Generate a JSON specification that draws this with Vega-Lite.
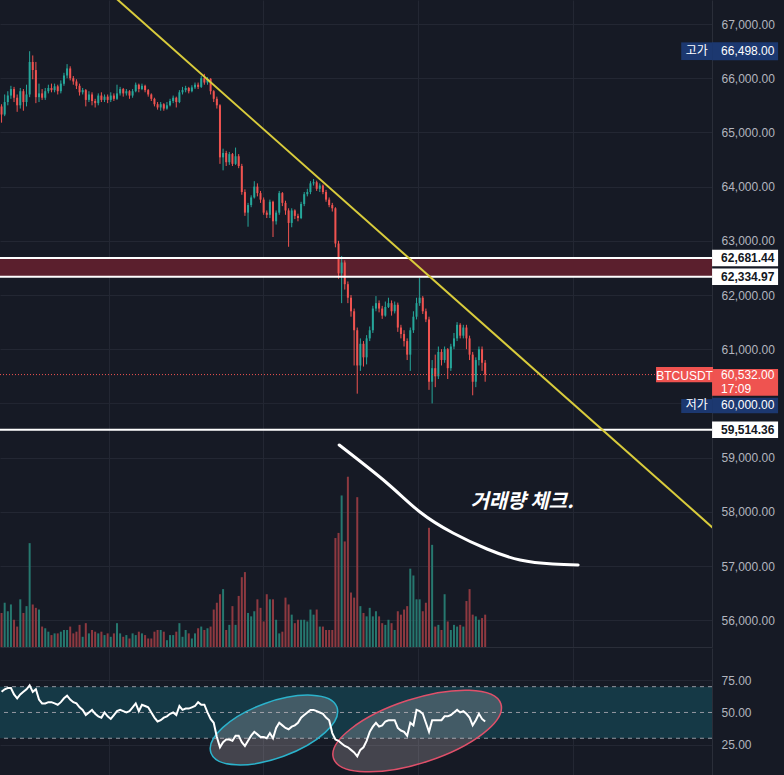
{
"$schema": "https://vega.github.io/schema/vega-lite/v6.json",
"background": "#161a25",
"padding": {"left": -3, "top": 0, "bottom": 0, "right": 8},
"spacing": 1,
"config": {
 "view": {"stroke": null},
 "scale": {"continuousPadding": 0},
 "axis": {"labelFont": "Liberation Sans", "labelFontSize": 12, "labelColor": "#b2b5be", "gridColor": "#232733", "domainColor": "#2a2e39", "ticks": false, "labelPadding": 9}
},
"datasets": {
 "candles": [
{"i":0,"o":65480,"h":65520,"l":65180,"c":65330,"v":20,"r":66},
{"i":1,"o":65330,"h":65700,"l":65300,"c":65560,"v":26,"r":68},
{"i":2,"o":65560,"h":65760,"l":65500,"c":65680,"v":21,"r":69},
{"i":3,"o":65680,"h":65860,"l":65620,"c":65800,"v":25,"r":69},
{"i":4,"o":65800,"h":65840,"l":65560,"c":65640,"v":16,"r":64},
{"i":5,"o":65640,"h":65700,"l":65380,"c":65500,"v":12,"r":61},
{"i":6,"o":65500,"h":65820,"l":65440,"c":65760,"v":28,"r":64},
{"i":7,"o":65760,"h":65800,"l":65400,"c":65560,"v":20,"r":66},
{"i":8,"o":65560,"h":65880,"l":65480,"c":65700,"v":24,"r":68},
{"i":9,"o":65700,"h":66498,"l":65650,"c":66300,"v":61,"r":71},
{"i":10,"o":66300,"h":66420,"l":65980,"c":66150,"v":25,"r":66},
{"i":11,"o":66150,"h":66300,"l":65540,"c":65650,"v":23,"r":68},
{"i":12,"o":65650,"h":65900,"l":65560,"c":65720,"v":22,"r":60},
{"i":13,"o":65720,"h":65800,"l":65600,"c":65640,"v":12,"r":57},
{"i":14,"o":65640,"h":65820,"l":65600,"c":65760,"v":11,"r":57},
{"i":15,"o":65760,"h":65880,"l":65720,"c":65820,"v":9,"r":58},
{"i":16,"o":65820,"h":65900,"l":65740,"c":65780,"v":7,"r":58},
{"i":17,"o":65780,"h":65900,"l":65740,"c":65850,"v":8,"r":57},
{"i":18,"o":65850,"h":65880,"l":65700,"c":65760,"v":8,"r":56},
{"i":19,"o":65760,"h":65960,"l":65720,"c":65900,"v":9,"r":58},
{"i":20,"o":65900,"h":66100,"l":65860,"c":66050,"v":10,"r":61},
{"i":21,"o":66050,"h":66260,"l":66000,"c":66180,"v":10,"r":63},
{"i":22,"o":66180,"h":66220,"l":65960,"c":66000,"v":12,"r":60},
{"i":23,"o":66000,"h":66040,"l":65880,"c":65940,"v":8,"r":58},
{"i":24,"o":65940,"h":65980,"l":65800,"c":65860,"v":9,"r":57},
{"i":25,"o":65860,"h":65900,"l":65680,"c":65740,"v":13,"r":54},
{"i":26,"o":65740,"h":65820,"l":65700,"c":65780,"v":6,"r":52},
{"i":27,"o":65780,"h":65800,"l":65480,"c":65600,"v":14,"r":48},
{"i":28,"o":65600,"h":65760,"l":65560,"c":65700,"v":8,"r":50},
{"i":29,"o":65700,"h":65740,"l":65500,"c":65580,"v":10,"r":52},
{"i":30,"o":65580,"h":65620,"l":65460,"c":65540,"v":9,"r":49},
{"i":31,"o":65540,"h":65720,"l":65500,"c":65680,"v":8,"r":47},
{"i":32,"o":65680,"h":65740,"l":65560,"c":65600,"v":9,"r":46},
{"i":33,"o":65600,"h":65700,"l":65560,"c":65660,"v":7,"r":50},
{"i":34,"o":65660,"h":65700,"l":65540,"c":65600,"v":8,"r":47},
{"i":35,"o":65600,"h":65740,"l":65560,"c":65680,"v":6,"r":45},
{"i":36,"o":65680,"h":65720,"l":65580,"c":65620,"v":8,"r":48},
{"i":37,"o":65620,"h":65880,"l":65600,"c":65720,"v":14,"r":51},
{"i":38,"o":65720,"h":65840,"l":65680,"c":65800,"v":8,"r":52},
{"i":39,"o":65800,"h":65820,"l":65660,"c":65720,"v":6,"r":51},
{"i":40,"o":65720,"h":65800,"l":65680,"c":65760,"v":7,"r":50},
{"i":41,"o":65760,"h":65780,"l":65620,"c":65680,"v":5,"r":51},
{"i":42,"o":65680,"h":65800,"l":65640,"c":65760,"v":8,"r":54},
{"i":43,"o":65760,"h":65920,"l":65740,"c":65880,"v":7,"r":57},
{"i":44,"o":65880,"h":65900,"l":65740,"c":65800,"v":9,"r":51},
{"i":45,"o":65800,"h":65900,"l":65780,"c":65860,"v":8,"r":56},
{"i":46,"o":65860,"h":65880,"l":65740,"c":65780,"v":7,"r":55},
{"i":47,"o":65780,"h":65800,"l":65660,"c":65700,"v":5,"r":54},
{"i":48,"o":65700,"h":65720,"l":65580,"c":65620,"v":5,"r":50},
{"i":49,"o":65620,"h":65640,"l":65480,"c":65520,"v":9,"r":46},
{"i":50,"o":65520,"h":65560,"l":65420,"c":65460,"v":10,"r":43},
{"i":51,"o":65460,"h":65560,"l":65400,"c":65520,"v":10,"r":44},
{"i":52,"o":65520,"h":65540,"l":65400,"c":65440,"v":9,"r":46},
{"i":53,"o":65440,"h":65560,"l":65420,"c":65500,"v":4,"r":47},
{"i":54,"o":65500,"h":65620,"l":65480,"c":65580,"v":7,"r":49},
{"i":55,"o":65580,"h":65680,"l":65540,"c":65640,"v":7,"r":50},
{"i":56,"o":65640,"h":65660,"l":65460,"c":65560,"v":9,"r":48},
{"i":57,"o":65560,"h":65780,"l":65540,"c":65740,"v":14,"r":55},
{"i":58,"o":65740,"h":65840,"l":65700,"c":65780,"v":6,"r":52},
{"i":59,"o":65780,"h":65860,"l":65740,"c":65820,"v":10,"r":53},
{"i":60,"o":65820,"h":65840,"l":65720,"c":65760,"v":8,"r":53},
{"i":61,"o":65760,"h":65870,"l":65740,"c":65830,"v":5,"r":54},
{"i":62,"o":65830,"h":65920,"l":65800,"c":65880,"v":8,"r":55},
{"i":63,"o":65880,"h":65920,"l":65800,"c":65840,"v":11,"r":58},
{"i":64,"o":65840,"h":66040,"l":65820,"c":66000,"v":12,"r":56},
{"i":65,"o":66000,"h":66080,"l":65880,"c":65920,"v":10,"r":56},
{"i":66,"o":65920,"h":66020,"l":65880,"c":65990,"v":11,"r":50},
{"i":67,"o":65990,"h":66000,"l":65700,"c":65760,"v":12,"r":45},
{"i":68,"o":65760,"h":65780,"l":65560,"c":65620,"v":22,"r":42},
{"i":69,"o":65620,"h":65660,"l":65440,"c":65500,"v":26,"r":31},
{"i":70,"o":65500,"h":65520,"l":64420,"c":64540,"v":31,"r":23},
{"i":71,"o":64540,"h":64700,"l":64300,"c":64620,"v":34,"r":27},
{"i":72,"o":64620,"h":64660,"l":64380,"c":64450,"v":10,"r":29},
{"i":73,"o":64450,"h":64640,"l":64400,"c":64600,"v":13,"r":29},
{"i":74,"o":64600,"h":64620,"l":64380,"c":64420,"v":24,"r":28},
{"i":75,"o":64420,"h":64720,"l":64400,"c":64560,"v":13,"r":32},
{"i":76,"o":64560,"h":64600,"l":64340,"c":64380,"v":30,"r":32},
{"i":77,"o":64380,"h":64420,"l":63850,"c":63900,"v":41,"r":27},
{"i":78,"o":63900,"h":63950,"l":63460,"c":63520,"v":44,"r":24},
{"i":79,"o":63520,"h":63700,"l":63260,"c":63660,"v":20,"r":28},
{"i":80,"o":63660,"h":63840,"l":63620,"c":63800,"v":18,"r":32},
{"i":81,"o":63800,"h":64100,"l":63780,"c":64000,"v":21,"r":35},
{"i":82,"o":64000,"h":64060,"l":63820,"c":63880,"v":28,"r":33},
{"i":83,"o":63880,"h":63920,"l":63700,"c":63760,"v":23,"r":31},
{"i":84,"o":63760,"h":63800,"l":63480,"c":63520,"v":15,"r":31},
{"i":85,"o":63520,"h":63560,"l":63420,"c":63480,"v":31,"r":30},
{"i":86,"o":63480,"h":63760,"l":63420,"c":63720,"v":28,"r":34},
{"i":87,"o":63720,"h":63740,"l":63070,"c":63360,"v":28,"r":30},
{"i":88,"o":63360,"h":63560,"l":63300,"c":63520,"v":16,"r":38},
{"i":89,"o":63520,"h":63920,"l":63480,"c":63880,"v":8,"r":42},
{"i":90,"o":63880,"h":63900,"l":63640,"c":63700,"v":9,"r":40},
{"i":91,"o":63700,"h":63740,"l":63480,"c":63560,"v":29,"r":38},
{"i":92,"o":63560,"h":63600,"l":62890,"c":63330,"v":25,"r":37},
{"i":93,"o":63330,"h":63600,"l":63250,"c":63560,"v":19,"r":39},
{"i":94,"o":63560,"h":63580,"l":63400,"c":63460,"v":14,"r":40},
{"i":95,"o":63460,"h":63500,"l":63360,"c":63420,"v":16,"r":42},
{"i":96,"o":63420,"h":63720,"l":63400,"c":63680,"v":16,"r":46},
{"i":97,"o":63680,"h":63900,"l":63640,"c":63860,"v":16,"r":48},
{"i":98,"o":63860,"h":63960,"l":63820,"c":63900,"v":15,"r":50},
{"i":99,"o":63900,"h":64100,"l":63860,"c":64060,"v":22,"r":52},
{"i":100,"o":64060,"h":64140,"l":64020,"c":64080,"v":19,"r":52},
{"i":101,"o":64080,"h":64110,"l":63920,"c":63960,"v":22,"r":51},
{"i":102,"o":63960,"h":64060,"l":63900,"c":64020,"v":12,"r":50},
{"i":103,"o":64020,"h":64040,"l":63860,"c":63900,"v":12,"r":49},
{"i":104,"o":63900,"h":63940,"l":63720,"c":63760,"v":10,"r":46},
{"i":105,"o":63760,"h":63800,"l":63620,"c":63660,"v":10,"r":44},
{"i":106,"o":63660,"h":63700,"l":63540,"c":63600,"v":10,"r":34},
{"i":107,"o":63600,"h":63620,"l":62880,"c":62950,"v":64,"r":29},
{"i":108,"o":62950,"h":63000,"l":62300,"c":62400,"v":67,"r":28},
{"i":109,"o":62400,"h":62720,"l":61850,"c":62600,"v":89,"r":26},
{"i":110,"o":62600,"h":62640,"l":62100,"c":62200,"v":62,"r":24},
{"i":111,"o":62200,"h":62250,"l":61850,"c":61950,"v":100,"r":23},
{"i":112,"o":61950,"h":62000,"l":61600,"c":61700,"v":32,"r":21},
{"i":113,"o":61700,"h":61750,"l":60700,"c":61350,"v":29,"r":19},
{"i":114,"o":61350,"h":61400,"l":60180,"c":60700,"v":88,"r":16},
{"i":115,"o":60700,"h":61200,"l":60600,"c":61100,"v":24,"r":21},
{"i":116,"o":61100,"h":61150,"l":60680,"c":60850,"v":20,"r":23},
{"i":117,"o":60850,"h":61260,"l":60720,"c":61200,"v":18,"r":28},
{"i":118,"o":61200,"h":61420,"l":61150,"c":61350,"v":23,"r":35},
{"i":119,"o":61350,"h":61800,"l":61300,"c":61750,"v":18,"r":39},
{"i":120,"o":61750,"h":61980,"l":61700,"c":61850,"v":21,"r":42},
{"i":121,"o":61850,"h":61900,"l":61680,"c":61750,"v":18,"r":39},
{"i":122,"o":61750,"h":61800,"l":61560,"c":61620,"v":14,"r":40},
{"i":123,"o":61620,"h":61880,"l":61600,"c":61780,"v":13,"r":43},
{"i":124,"o":61780,"h":61950,"l":61760,"c":61850,"v":16,"r":44},
{"i":125,"o":61850,"h":61900,"l":61620,"c":61700,"v":14,"r":44},
{"i":126,"o":61700,"h":61880,"l":61660,"c":61820,"v":10,"r":44},
{"i":127,"o":61820,"h":61860,"l":61320,"c":61400,"v":21,"r":38},
{"i":128,"o":61400,"h":61450,"l":61200,"c":61280,"v":19,"r":36},
{"i":129,"o":61280,"h":61350,"l":61050,"c":61150,"v":22,"r":35},
{"i":130,"o":61150,"h":61200,"l":60800,"c":60900,"v":24,"r":32},
{"i":131,"o":60900,"h":61400,"l":60600,"c":61350,"v":46,"r":42},
{"i":132,"o":61350,"h":61700,"l":61300,"c":61600,"v":42,"r":40},
{"i":133,"o":61600,"h":61950,"l":61550,"c":61850,"v":28,"r":52},
{"i":134,"o":61850,"h":62320,"l":61800,"c":61950,"v":28,"r":51},
{"i":135,"o":61950,"h":61980,"l":61650,"c":61700,"v":21,"r":49},
{"i":136,"o":61700,"h":61750,"l":61500,"c":61550,"v":26,"r":42},
{"i":137,"o":61550,"h":61600,"l":60250,"c":60400,"v":70,"r":35},
{"i":138,"o":60400,"h":60800,"l":60000,"c":60650,"v":60,"r":44},
{"i":139,"o":60650,"h":60900,"l":60300,"c":60500,"v":12,"r":44},
{"i":140,"o":60500,"h":61050,"l":60450,"c":60950,"v":13,"r":44},
{"i":141,"o":60950,"h":61000,"l":60700,"c":60800,"v":10,"r":44},
{"i":142,"o":60800,"h":61050,"l":60750,"c":61000,"v":31,"r":47},
{"i":143,"o":61000,"h":61020,"l":60450,"c":60650,"v":15,"r":47},
{"i":144,"o":60650,"h":61100,"l":60600,"c":61050,"v":10,"r":48},
{"i":145,"o":61050,"h":61300,"l":61000,"c":61200,"v":13,"r":50},
{"i":146,"o":61200,"h":61500,"l":61150,"c":61450,"v":12,"r":52},
{"i":147,"o":61450,"h":61480,"l":61200,"c":61250,"v":13,"r":50},
{"i":148,"o":61250,"h":61450,"l":61200,"c":61400,"v":12,"r":51},
{"i":149,"o":61400,"h":61450,"l":61000,"c":61200,"v":27,"r":49},
{"i":150,"o":61200,"h":61250,"l":60800,"c":60900,"v":34,"r":46},
{"i":151,"o":60900,"h":60950,"l":60150,"c":60400,"v":19,"r":40},
{"i":152,"o":60400,"h":60850,"l":60300,"c":60800,"v":18,"r":44},
{"i":153,"o":60800,"h":61050,"l":60700,"c":61000,"v":16,"r":49},
{"i":154,"o":61000,"h":61050,"l":60600,"c":60750,"v":17,"r":45},
{"i":155,"o":60750,"h":60800,"l":60400,"c":60532,"v":19,"r":43}
 ]
},
"vconcat": [
 {
  "width": 712,
  "height": 647,
  "resolve": {"scale": {"y": "independent"}},
  "layer": [
   {
    "data": {"name": "candles"},
    "mark": {"type": "bar", "size": 2},
    "encoding": {
     "x": {"field": "i", "type": "quantitative", "scale": {"domain": [-0.5, 227.7], "nice": false, "zero": false, "padding": 0}, "axis": {"values": [34.5, 83.9, 133.6, 183], "labels": false, "ticks": false, "domain": true, "grid": true, "title": null}},
     "y": {"field": "v", "type": "quantitative", "scale": {"domain": [0, 380], "nice": false, "padding": 0}, "axis": null},
     "color": {"condition": {"test": "datum.c >= datum.o", "value": "#26786f"}, "value": "#8e3940"}
    }
   },
   {
    "layer": [
     {
      "data": {"values": [{"lo": 62334.97, "hi": 62681.44}]},
      "mark": {"type": "rect", "color": "#5b1f2d"},
      "encoding": {
       "x": {"datum": -0.5, "type": "quantitative", "scale": {"domain": [-0.5, 227.7], "nice": false, "zero": false, "padding": 0}},
       "x2": {"datum": 227.7},
       "y": {"field": "lo", "type": "quantitative", "scale": {"domain": [55506, 67443], "nice": false, "zero": false, "padding": 0}, "axis": {"orient": "right", "values": [56000, 57000, 58000, 59000, 61000, 62000, 63000, 64000, 65000, 66000, 67000], "format": ",.2f", "title": null, "grid": true, "domain": true}},
       "y2": {"field": "hi"}
      }
     },
     {
      "data": {"values": [{"p": 60000}]},
      "mark": {"type": "rule", "color": "#232733", "strokeWidth": 1},
      "encoding": {"y": {"field": "p", "type": "quantitative", "scale": {"domain": [55506, 67443], "nice": false, "zero": false, "padding": 0}}}
     },
     {
      "data": {"name": "candles"},
      "mark": {"type": "rule", "strokeWidth": 1},
      "encoding": {
       "x": {"field": "i", "type": "quantitative", "scale": {"domain": [-0.5, 227.7], "nice": false, "zero": false, "padding": 0}},
       "y": {"field": "l", "type": "quantitative", "scale": {"domain": [55506, 67443], "nice": false, "zero": false, "padding": 0}},
       "y2": {"field": "h"},
       "color": {"condition": {"test": "datum.c >= datum.o", "value": "#26a69a"}, "value": "#ef5350"}
      }
     },
     {
      "data": {"name": "candles"},
      "mark": {"type": "bar", "size": 2},
      "encoding": {
       "x": {"field": "i", "type": "quantitative", "scale": {"domain": [-0.5, 227.7], "nice": false, "zero": false, "padding": 0}},
       "y": {"field": "o", "type": "quantitative", "scale": {"domain": [55506, 67443], "nice": false, "zero": false, "padding": 0}},
       "y2": {"field": "c"},
       "color": {"condition": {"test": "datum.c >= datum.o", "value": "#26a69a"}, "value": "#ef5350"}
      }
     },
     {
      "data": {"values": [{"p": 62681.44}, {"p": 62334.97}, {"p": 59514.36}]},
      "mark": {"type": "rule", "color": "#ffffff", "strokeWidth": 2},
      "encoding": {"y": {"field": "p", "type": "quantitative", "scale": {"domain": [55506, 67443], "nice": false, "zero": false, "padding": 0}}}
     },
     {
      "data": {"values": [{"p": 60532}]},
      "mark": {"type": "rule", "color": "#ef5350", "strokeWidth": 1, "strokeDash": [1, 2]},
      "encoding": {"y": {"field": "p", "type": "quantitative", "scale": {"domain": [55506, 67443], "nice": false, "zero": false, "padding": 0}}}
     },
     {
      "data": {"values": [{"i": 29.5, "p": 67841}, {"i": 234.5, "p": 57372}]},
      "mark": {"type": "line", "color": "#d9cc3c", "strokeWidth": 2, "clip": true},
      "encoding": {
       "x": {"field": "i", "type": "quantitative", "scale": {"domain": [-0.5, 227.7], "nice": false, "zero": false, "padding": 0}},
       "y": {"field": "p", "type": "quantitative", "scale": {"domain": [55506, 67443], "nice": false, "zero": false, "padding": 0}}
      }
     },
     {
      "data": {"values": [{"i": 108.2, "p": 59233}, {"i": 123.5, "p": 58532}, {"i": 134.1, "p": 57997}, {"i": 144.7, "p": 57609}, {"i": 155.6, "p": 57314}, {"i": 166.2, "p": 57111}, {"i": 176.7, "p": 57037}, {"i": 184.8, "p": 57019}]},
      "mark": {"type": "line", "color": "#ffffff", "strokeWidth": 3, "interpolate": "natural", "strokeCap": "round"},
      "encoding": {
       "x": {"field": "i", "type": "quantitative", "scale": {"domain": [-0.5, 227.7], "nice": false, "zero": false, "padding": 0}},
       "y": {"field": "p", "type": "quantitative", "scale": {"domain": [55506, 67443], "nice": false, "zero": false, "padding": 0}}
      }
     },
     {
      "data": {"values": [{"i": 166.8, "p": 58181, "label": "거래량 체크."}]},
      "mark": {"type": "text", "font": "Noto Sans CJK KR", "fontSize": 20, "fontWeight": "bold", "fontStyle": "italic", "color": "#ffffff", "align": "center", "baseline": "middle"},
      "encoding": {
       "x": {"field": "i", "type": "quantitative", "scale": {"domain": [-0.5, 227.7], "nice": false, "zero": false, "padding": 0}},
       "y": {"field": "p", "type": "quantitative", "scale": {"domain": [55506, 67443], "nice": false, "zero": false, "padding": 0}},
       "text": {"field": "label"}
      }
     },
     {
      "data": {"values": [{"i": 238.3, "p": 66498}]},
      "mark": {"type": "point", "shape": "M -1 -0.27 H 1 V 0.27 H -1 Z", "size": 4356, "filled": true, "fill": "#1c3870", "opacity": 1, "strokeWidth": 0},
      "encoding": {
       "x": {"field": "i", "type": "quantitative", "scale": {"domain": [-0.5, 227.7], "nice": false, "zero": false, "padding": 0}},
       "y": {"field": "p", "type": "quantitative", "scale": {"domain": [55506, 67443], "nice": false, "zero": false, "padding": 0}}
      }
     },
     {
      "data": {"values": [{"i": 222.8, "p": 66498}]},
      "mark": {"type": "point", "shape": "M -1 -0.57 H 1 V 0.57 H -1 Z", "size": 961, "filled": true, "fill": "#1c3870", "opacity": 1, "strokeWidth": 0},
      "encoding": {
       "x": {"field": "i", "type": "quantitative", "scale": {"domain": [-0.5, 227.7], "nice": false, "zero": false, "padding": 0}},
       "y": {"field": "p", "type": "quantitative", "scale": {"domain": [55506, 67443], "nice": false, "zero": false, "padding": 0}}
      }
     },
     {
      "data": {"values": [{"i": 238.3, "p": 60000}]},
      "mark": {"type": "point", "shape": "M -1 -0.17 H 1 V 0.3 H -1 Z", "size": 4356, "filled": true, "fill": "#1c3870", "opacity": 1, "strokeWidth": 0},
      "encoding": {
       "x": {"field": "i", "type": "quantitative", "scale": {"domain": [-0.5, 227.7], "nice": false, "zero": false, "padding": 0}},
       "y": {"field": "p", "type": "quantitative", "scale": {"domain": [55506, 67443], "nice": false, "zero": false, "padding": 0}}
      }
     },
     {
      "data": {"values": [{"i": 222.8, "p": 60000}]},
      "mark": {"type": "point", "shape": "M -1 -0.28 H 1 V 0.62 H -1 Z", "size": 961, "filled": true, "fill": "#1c3870", "opacity": 1, "strokeWidth": 0},
      "encoding": {
       "x": {"field": "i", "type": "quantitative", "scale": {"domain": [-0.5, 227.7], "nice": false, "zero": false, "padding": 0}},
       "y": {"field": "p", "type": "quantitative", "scale": {"domain": [55506, 67443], "nice": false, "zero": false, "padding": 0}}
      }
     },
     {
      "data": {"values": [{"i": 238.3, "p": 62681.44}, {"i": 238.3, "p": 62334.97}, {"i": 238.3, "p": 59514.36}]},
      "mark": {"type": "point", "shape": "M -1 -0.25 H 1 V 0.25 H -1 Z", "size": 4356, "filled": true, "fill": "#ffffff", "opacity": 1, "strokeWidth": 0},
      "encoding": {
       "x": {"field": "i", "type": "quantitative", "scale": {"domain": [-0.5, 227.7], "nice": false, "zero": false, "padding": 0}},
       "y": {"field": "p", "type": "quantitative", "scale": {"domain": [55506, 67443], "nice": false, "zero": false, "padding": 0}}
      }
     },
     {
      "data": {"values": [{"i": 238.3, "p": 60532}]},
      "mark": {"type": "point", "shape": "M -1 -0.17 H 1 V 0.64 H -1 Z", "size": 4356, "filled": true, "fill": "#ef5350", "opacity": 1, "strokeWidth": 0},
      "encoding": {
       "x": {"field": "i", "type": "quantitative", "scale": {"domain": [-0.5, 227.7], "nice": false, "zero": false, "padding": 0}},
       "y": {"field": "p", "type": "quantitative", "scale": {"domain": [55506, 67443], "nice": false, "zero": false, "padding": 0}}
      }
     },
     {
      "data": {"values": [{"i": 218.9, "p": 60532}]},
      "mark": {"type": "point", "shape": "M -1 -0.27 H 1 V 0.27 H -1 Z", "size": 3249, "filled": true, "fill": "#ef5350", "opacity": 1, "strokeWidth": 0},
      "encoding": {
       "x": {"field": "i", "type": "quantitative", "scale": {"domain": [-0.5, 227.7], "nice": false, "zero": false, "padding": 0}},
       "y": {"field": "p", "type": "quantitative", "scale": {"domain": [55506, 67443], "nice": false, "zero": false, "padding": 0}}
      }
     },
     {
      "data": {"values": [{"i": 230.6, "p": 66498, "label": "66,498.00"}, {"i": 230.6, "p": 60532, "label": "60,532.00"}]},
      "mark": {"type": "text", "font": "Liberation Sans", "fontSize": 12, "color": "#ffffff", "align": "left", "baseline": "middle"},
      "encoding": {
       "x": {"field": "i", "type": "quantitative", "scale": {"domain": [-0.5, 227.7], "nice": false, "zero": false, "padding": 0}},
       "y": {"field": "p", "type": "quantitative", "scale": {"domain": [55506, 67443], "nice": false, "zero": false, "padding": 0}},
       "text": {"field": "label"}
      }
     },
     {
      "data": {"values": [{"i": 230.6, "p": 60000, "label": "60,000.00"}]},
      "mark": {"type": "text", "font": "Liberation Sans", "fontSize": 12, "color": "#ffffff", "align": "left", "baseline": "middle", "dy": 2},
      "encoding": {
       "x": {"field": "i", "type": "quantitative", "scale": {"domain": [-0.5, 227.7], "nice": false, "zero": false, "padding": 0}},
       "y": {"field": "p", "type": "quantitative", "scale": {"domain": [55506, 67443], "nice": false, "zero": false, "padding": 0}},
       "text": {"field": "label"}
      }
     },
     {
      "data": {"values": [{"i": 230.6, "p": 60532, "label": "17:09"}]},
      "mark": {"type": "text", "font": "Liberation Sans", "fontSize": 12, "color": "#ffffff", "align": "left", "baseline": "middle", "dy": 14},
      "encoding": {
       "x": {"field": "i", "type": "quantitative", "scale": {"domain": [-0.5, 227.7], "nice": false, "zero": false, "padding": 0}},
       "y": {"field": "p", "type": "quantitative", "scale": {"domain": [55506, 67443], "nice": false, "zero": false, "padding": 0}},
       "text": {"field": "label"}
      }
     },
     {
      "data": {"values": [{"i": 230.6, "p": 62681.44, "label": "62,681.44"}, {"i": 230.6, "p": 62334.97, "label": "62,334.97"}, {"i": 230.6, "p": 59514.36, "label": "59,514.36"}]},
      "mark": {"type": "text", "font": "Liberation Sans", "fontSize": 12, "fontWeight": "bold", "color": "#131722", "align": "left", "baseline": "middle"},
      "encoding": {
       "x": {"field": "i", "type": "quantitative", "scale": {"domain": [-0.5, 227.7], "nice": false, "zero": false, "padding": 0}},
       "y": {"field": "p", "type": "quantitative", "scale": {"domain": [55506, 67443], "nice": false, "zero": false, "padding": 0}},
       "text": {"field": "label"}
      }
     },
     {
      "data": {"values": [{"i": 222.8, "p": 66498, "label": "고가"}]},
      "mark": {"type": "text", "font": "Noto Sans CJK KR", "fontSize": 12, "color": "#ffffff", "align": "center", "baseline": "middle"},
      "encoding": {
       "x": {"field": "i", "type": "quantitative", "scale": {"domain": [-0.5, 227.7], "nice": false, "zero": false, "padding": 0}},
       "y": {"field": "p", "type": "quantitative", "scale": {"domain": [55506, 67443], "nice": false, "zero": false, "padding": 0}},
       "text": {"field": "label"}
      }
     },
     {
      "data": {"values": [{"i": 222.8, "p": 60000, "label": "저가"}]},
      "mark": {"type": "text", "font": "Noto Sans CJK KR", "fontSize": 12, "color": "#ffffff", "align": "center", "baseline": "middle", "dy": 2},
      "encoding": {
       "x": {"field": "i", "type": "quantitative", "scale": {"domain": [-0.5, 227.7], "nice": false, "zero": false, "padding": 0}},
       "y": {"field": "p", "type": "quantitative", "scale": {"domain": [55506, 67443], "nice": false, "zero": false, "padding": 0}},
       "text": {"field": "label"}
      }
     },
     {
      "data": {"values": [{"i": 218.9, "p": 60532, "label": "BTCUSDT"}]},
      "mark": {"type": "text", "font": "Liberation Sans", "fontSize": 12, "color": "#ffffff", "align": "center", "baseline": "middle", "dy": 1},
      "encoding": {
       "x": {"field": "i", "type": "quantitative", "scale": {"domain": [-0.5, 227.7], "nice": false, "zero": false, "padding": 0}},
       "y": {"field": "p", "type": "quantitative", "scale": {"domain": [55506, 67443], "nice": false, "zero": false, "padding": 0}},
       "text": {"field": "label"}
      }
     }
    ]
   }
  ]
 },
 {
  "width": 712,
  "height": 127,
  "layer": [
   {
    "data": {"values": [{"lo": 30, "hi": 70}]},
    "mark": {"type": "rect", "color": "#153946"},
    "encoding": {
     "x": {"datum": -0.5, "type": "quantitative", "scale": {"domain": [-0.5, 227.7], "nice": false, "zero": false, "padding": 0}},
     "x2": {"datum": 227.7},
     "y": {"field": "lo", "type": "quantitative", "scale": {"domain": [1.5, 100], "nice": false, "zero": false, "padding": 0}, "axis": {"orient": "right", "values": [25, 50, 75], "format": ".2f", "title": null, "grid": true, "domain": true}},
     "y2": {"field": "hi"}
    }
   },
   {
    "data": {"values": [{"p": 70}, {"p": 50}, {"p": 30}]},
    "mark": {"type": "rule", "color": "#9598a1", "strokeWidth": 1, "strokeDash": [4, 4]},
    "encoding": {"y": {"field": "p", "type": "quantitative", "scale": {"domain": [1.5, 100], "nice": false, "zero": false, "padding": 0}}}
   },
   {
    "data": {"values": [{"i": 87.3, "r": 36.4}]},
    "mark": {"type": "point", "shape": "M 1 0 C 1 0.231 0.552 0.418 0 0.418 C -0.552 0.418 -1 0.231 -1 0 C -1 -0.231 -0.552 -0.418 0 -0.418 C 0.552 -0.418 1 -0.231 1 0 Z", "size": 17956, "angle": 340, "filled": true, "fill": "#d1c4c8", "fillOpacity": 0.25, "stroke": "#2bb3cc", "strokeWidth": 1.5, "strokeOpacity": 1, "opacity": 1},
    "encoding": {
     "x": {"field": "i", "type": "quantitative", "scale": {"domain": [-0.5, 227.7], "nice": false, "zero": false, "padding": 0}},
     "y": {"field": "r", "type": "quantitative", "scale": {"domain": [1.5, 100], "nice": false, "zero": false, "padding": 0}}
    }
   },
   {
    "data": {"values": [{"i": 133.2, "r": 35.6}]},
    "mark": {"type": "point", "shape": "M 1 0 C 1 0.201 0.552 0.364 0 0.364 C -0.552 0.364 -1 0.201 -1 0 C -1 -0.201 -0.552 -0.364 0 -0.364 C 0.552 -0.364 1 -0.201 1 0 Z", "size": 30976, "angle": 342, "filled": true, "fill": "#d1c4c8", "fillOpacity": 0.25, "stroke": "#e0506a", "strokeWidth": 1.5, "strokeOpacity": 1, "opacity": 1},
    "encoding": {
     "x": {"field": "i", "type": "quantitative", "scale": {"domain": [-0.5, 227.7], "nice": false, "zero": false, "padding": 0}},
     "y": {"field": "r", "type": "quantitative", "scale": {"domain": [1.5, 100], "nice": false, "zero": false, "padding": 0}}
    }
   },
   {
    "data": {"name": "candles"},
    "mark": {"type": "line", "color": "#ffffff", "strokeWidth": 2},
    "encoding": {
     "x": {"field": "i", "type": "quantitative", "scale": {"domain": [-0.5, 227.7], "nice": false, "zero": false, "padding": 0}, "axis": {"values": [34.5, 83.9, 133.6, 183], "labels": false, "ticks": false, "domain": false, "grid": true, "title": null}},
     "y": {"field": "r", "type": "quantitative", "scale": {"domain": [1.5, 100], "nice": false, "zero": false, "padding": 0}}
    }
   }
  ]
 }
]
}
